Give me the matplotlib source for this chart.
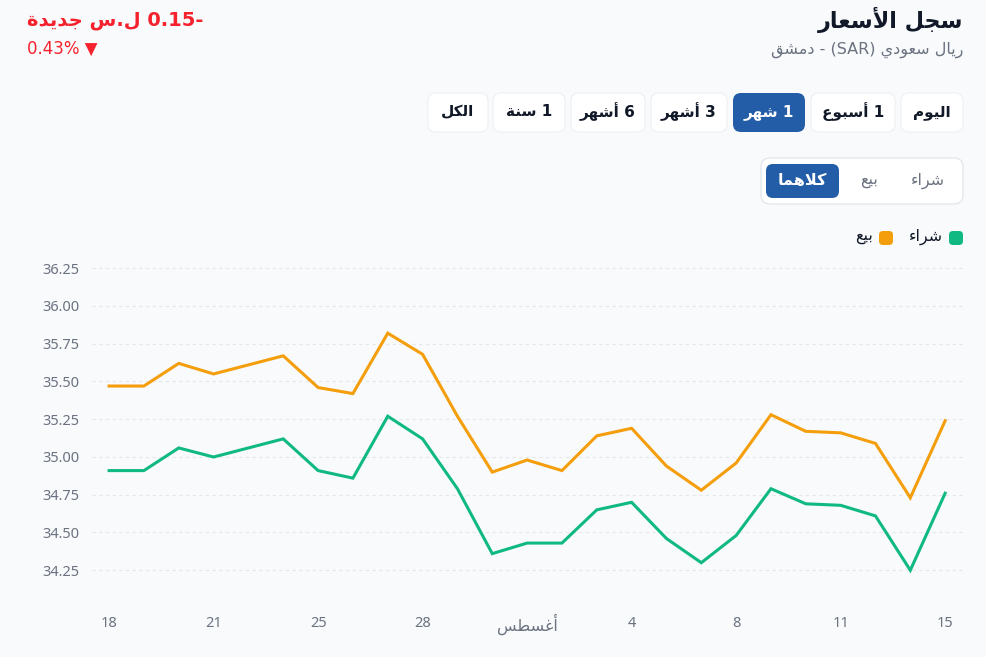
import matplotlib
matplotlib.use("Agg")
import matplotlib.pyplot as plt
from matplotlib.patches import FancyBboxPatch

plt.rcParams['font.family'] = ['Noto Sans', 'DejaVu Sans']

# --- data (سعر الريال السعودي، شهر واحد) ---
buy = [34.91, 34.91, 35.06, 35.00, 35.06, 35.12, 34.91, 34.86, 35.27, 35.12,
       34.79, 34.36, 34.43, 34.43, 34.65, 34.70, 34.46, 34.30, 34.48, 34.79,
       34.69, 34.68, 34.61, 34.25, 34.76]
sell = [35.47, 35.47, 35.62, 35.55, 35.61, 35.67, 35.46, 35.42, 35.82, 35.68,
        35.27, 34.90, 34.98, 34.91, 35.14, 35.19, 34.94, 34.78, 34.96, 35.28,
        35.17, 35.16, 35.09, 34.73, 35.24]
tick_pos = [0, 3, 6, 9, 12, 15, 18, 21, 24]
tick_labels = ['18', '21', '25', '28', 'أغسطس', '4', '8', '11', '15']
y_ticks = [34.25, 34.50, 34.75, 35.00, 35.25, 35.50, 35.75, 36.00, 36.25]
ranges = ['اليوم', '1 أسبوع', '1 شهر', '3 أشهر', '6 أشهر', '1 سنة', 'الكل']
sides = ['شراء', 'بيع', 'كلاهما']

BG = '#f8fafc'
BLUE = '#245da7'
GREEN = '#10b981'
ORANGE = '#f59e0b'
RED = '#f5222d'
GRAY = '#6b7280'
DARK = '#111827'

# matplotlib has no arabic shaping, so pick presentation forms by hand
DUAL = {'ب': 0xFE8F, 'ج': 0xFE9D, 'س': 0xFEB1, 'ش': 0xFEB5, 'ط': 0xFEC1,
        'ع': 0xFEC9, 'غ': 0xFECD, 'ق': 0xFED5, 'ك': 0xFED9, 'ل': 0xFEDD,
        'م': 0xFEE1, 'ن': 0xFEE5, 'ه': 0xFEE9, 'ي': 0xFEF1}
RIGHT = {'ا': 0xFE8D, 'أ': 0xFE83, 'ة': 0xFE93, 'د': 0xFEA9, 'ر': 0xFEAD,
         'و': 0xFEED}
LAM_ALEF = {'ا': 0xFEFB, 'أ': 0xFEF7}


def shape(word):
    units = []
    i = 0
    while i < len(word):
        c = word[i]
        if c == 'ل' and i + 1 < len(word) and word[i + 1] in LAM_ALEF:
            units.append((LAM_ALEF[word[i + 1]], 'R'))
            i += 2
            continue
        if c in DUAL:
            units.append((DUAL[c], 'D'))
        elif c in RIGHT:
            units.append((RIGHT[c], 'R'))
        elif c == 'ء':
            units.append((0xFE80, 'U'))
        else:
            units.append((c, 'X'))
        i += 1
    out = []
    for k, (g, t) in enumerate(units):
        if t == 'X':
            out.append(g)
            continue
        prev_j = k > 0 and units[k - 1][1] == 'D'
        next_j = t == 'D' and k + 1 < len(units) and units[k + 1][1] in ('D', 'R')
        if t == 'U':
            form = 0
        elif prev_j and next_j:
            form = 3
        elif prev_j:
            form = 1
        elif next_j:
            form = 2
        else:
            form = 0
        out.append(chr(g + form))
    return ''.join(reversed(out))


def rtl(text):
    words = text.split(' ')
    vis = [shape(w) if any('\u0600' <= c <= '\u06ff' for c in w) else w for w in words]
    return ' '.join(reversed(vis))


fig = plt.figure(figsize=(9.87, 6.57), dpi=100, facecolor=BG)

# UI layer in pixel coordinates
ui = fig.add_axes([0, 0, 1, 1])
ui.set_xlim(0, 987)
ui.set_ylim(657, 0)
ui.axis('off')


def box(x0, y0, x1, y1, fc, ec='none', r=8, lw=0.8):
    ui.add_patch(FancyBboxPatch((x0, y0), x1 - x0, y1 - y0,
                                boxstyle=f'round,pad=0,rounding_size={r}',
                                fc=fc, ec=ec, lw=lw))


# header
ui.text(963, 20, rtl('سجل الأسعار'), ha='right', va='center', fontsize=16,
        fontweight='bold', color=DARK, family='DejaVu Sans')
ui.text(963, 50, rtl('ريال سعودي (SAR) - دمشق'), ha='right', va='center',
        fontsize=11.5, color=GRAY, family='DejaVu Sans')

change = buy[-1] - buy[0]
pct = abs(change) / buy[0] * 100
ui.text(27, 20, rtl(f'{abs(change):.2f}- ل.س جديدة'), ha='left', va='center',
        fontsize=14, fontweight='bold', color=RED, family='DejaVu Sans')
ui.text(27, 49, f'{pct:.2f}% ▼', ha='left', va='center', fontsize=12,
        color=RED, family='DejaVu Sans')

# range buttons (right to left)
btn_edges = [(901, 963), (811, 895), (733, 805), (651, 727), (571, 645),
             (493, 565), (428, 488)]
for lab, (x0, x1) in zip(ranges, btn_edges):
    active = lab == '1 شهر'
    box(x0, 93, x1, 132, BLUE if active else 'white',
        ec='none' if active else '#eef0f3')
    ui.text((x0 + x1) / 2, 112, rtl(lab), ha='center', va='center',
            fontsize=11, fontweight='bold',
            color='white' if active else DARK, family='DejaVu Sans')

# buy / sell toggle
box(761, 158, 963, 204, 'white', ec='#e5e7eb', r=9, lw=1)
box(766, 164, 839, 198, BLUE, r=7)
for lab, cx in zip(sides, [928, 869, 802.5]):
    active = lab == 'كلاهما'
    ui.text(cx, 181, rtl(lab), ha='center', va='center', fontsize=11.5,
            fontweight='bold' if active else 'normal',
            color='white' if active else GRAY, family='DejaVu Sans')

# legend
for lab, col, x1 in [('شراء', GREEN, 963), ('بيع', ORANGE, 893)]:
    box(x1 - 14, 231, x1, 245, col, r=4)
    ui.text(x1 - 20, 237, rtl(lab), ha='right', va='center', fontsize=11.5,
            color=DARK, family='DejaVu Sans')

# chart
left, right, top, bottom = 92, 965, 260.7, 608
ax = fig.add_axes([left / 987, 1 - bottom / 657, (right - left) / 987,
                   (bottom - top) / 657])
ax.set_facecolor('none')
x = list(range(len(buy)))
ax.plot(x, sell, color=ORANGE, lw=2.2, solid_joinstyle='miter')
ax.plot(x, buy, color=GREEN, lw=2.2, solid_joinstyle='miter')
ax.set_xlim(-0.49, 24.57)
ax.set_ylim(34.0, 36.3)
ax.set_yticks(y_ticks, [f'{v:.2f}' for v in y_ticks])
ax.set_xticks(tick_pos, [rtl(t) for t in tick_labels])
ax.grid(axis='y', color='#e5e7eb', lw=0.8, ls=(0, (3, 3)))
ax.grid(axis='x', visible=False)
ax.tick_params(length=0, labelcolor=GRAY, labelsize=10.5)
ax.tick_params(axis='y', pad=9)
ax.tick_params(axis='x', pad=11.5)
for lbl in ax.get_xticklabels():
    lbl.set_verticalalignment('center')
    if lbl.get_text() == rtl('أغسطس'):
        lbl.set_fontsize(11.5)
for s in ax.spines.values():
    s.set_visible(False)

fig.savefig('out.png', dpi=100, facecolor=BG)
